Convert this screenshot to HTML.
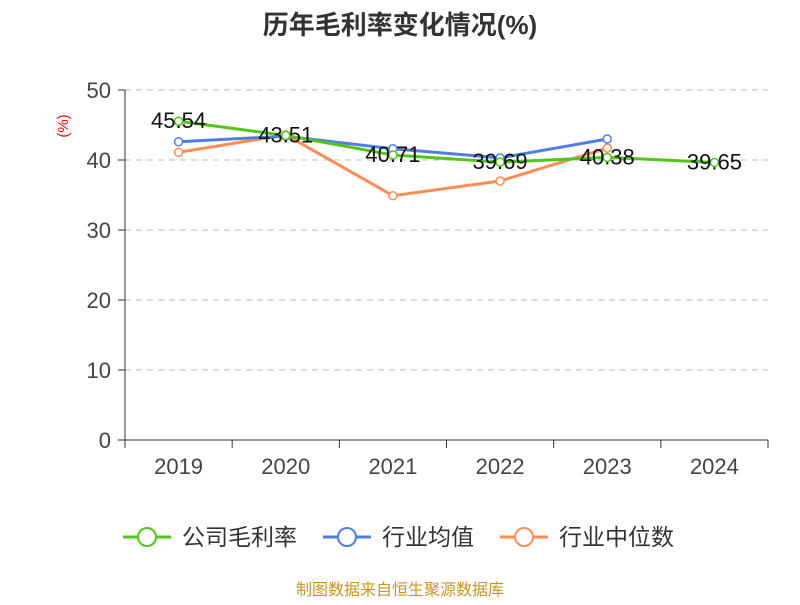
<!DOCTYPE html>
<html><head><meta charset="utf-8">
<style>
body{margin:0;background:#fff;}
svg text{font-family:"Liberation Sans","Noto Sans CJK SC",sans-serif;}
</style></head>
<body>
<svg id="chart" width="800" height="600" xmlns="http://www.w3.org/2000/svg">
<text x="400" y="34" text-anchor="middle" font-size="26" font-weight="bold" fill="#333">历年毛利率变化情况(%)</text>
<text x="68" y="126" text-anchor="middle" font-size="15" fill="#e00" transform="rotate(-90 68 126)">(%)</text>
<g id="grid"></g><g id="axes"></g><g id="series"></g><g id="labels"></g>
<g>
 <g><line x1="123" y1="537" x2="171" y2="537" stroke="#52c41a" stroke-width="3"/><circle cx="147" cy="537" r="9" fill="#fff" stroke="#52c41a" stroke-width="2"/><text x="182" y="545" font-size="23" fill="#333">公司毛利率</text></g>
 <g><line x1="323" y1="537" x2="371" y2="537" stroke="#4e7fe0" stroke-width="3"/><circle cx="347" cy="537" r="9" fill="#fff" stroke="#4e7fe0" stroke-width="2"/><text x="382" y="545" font-size="23" fill="#333">行业均值</text></g>
 <g><line x1="500" y1="537" x2="548" y2="537" stroke="#ff8c55" stroke-width="3"/><circle cx="524" cy="537" r="9" fill="#fff" stroke="#ff8c55" stroke-width="2"/><text x="559" y="545" font-size="23" fill="#333">行业中位数</text></g>
</g>
<text x="400" y="595" text-anchor="middle" font-size="16" fill="#c8961e">制图数据来自恒生聚源数据库</text>
</svg>
<script>
const categories=["2019","2020","2021","2022","2023","2024"];
const companyMargin=[45.54,43.51,40.71,39.69,40.38,39.65];
const industryAvg=[42.6,43.4,41.6,40.3,43.0,null];
const industryMedian=[41.1,43.6,34.9,37.0,41.7,null];
const yTicks=[0,10,20,30,40,50];
const NS="http://www.w3.org/2000/svg";
const x0=125,x1=768,yBase=440,yTop=90,yMax=50;
const band=(x1-x0)/categories.length;
const xs=i=>x0+band*(i+0.5);
const ys=v=>yBase-(v/yMax)*(yBase-yTop);
function mk(tag,attrs,parent,txt){const e=document.createElementNS(NS,tag);for(const k in attrs)e.setAttribute(k,attrs[k]);if(txt!=null)e.textContent=txt;document.getElementById(parent).appendChild(e);return e;}
yTicks.forEach(t=>{
 if(t>0){const g=mk('line',{x1:x0,x2:x1,y1:ys(t),y2:ys(t),stroke:'#bbb','stroke-dasharray':'6,5'},'grid');
 
 }
 const tk=mk('line',{x1:x0-7,x2:x0,y1:ys(t),y2:ys(t),stroke:'#333'},'axes');
 
 
 const l=mk('text',{x:x0-14,y:ys(t)+8,'text-anchor':'end','font-size':'22',fill:'#444'},'axes',t);
 
 
});
const ya=mk('line',{x1:x0,x2:x0,y1:yTop,y2:yBase,stroke:'#333'},'axes');


const xa=mk('line',{x1:x0,x2:x1,y1:yBase,y2:yBase,stroke:'#333'},'axes');


for(let i=0;i<=categories.length;i++){const t=mk('line',{x1:x0+band*i,x2:x0+band*i,y1:yBase,y2:yBase+8,stroke:'#333'},'axes');
 
 }
categories.forEach((c,i)=>{const l=mk('text',{x:xs(i),y:474,'text-anchor':'middle','font-size':'22',fill:'#444'},'axes',c);
 
 });
function series(vals,color,name){
 const pts=[];vals.forEach((v,i)=>{if(v!=null)pts.push([xs(i),ys(v)]);});
 const p=mk('polyline',{points:pts.map(p=>p.join(',')).join(' '),fill:'none',stroke:color,'stroke-width':3},'series');
 
 
 pts.forEach(q=>{const c=mk('circle',{cx:q[0],cy:q[1],r:4,fill:'#fff',stroke:color,'stroke-width':1.5},'series');
  
  });
}
series(industryMedian,'#ff8c55','industry-median');
series(industryAvg,'#4e7fe0','industry-average');
series(companyMargin,'#52c41a','gross-margin');
companyMargin.forEach((v,i)=>{const t=mk('text',{x:xs(i),y:ys(v)+7,'text-anchor':'middle','font-size':'22',fill:'#111'},'labels',v.toFixed(2));
 
 });
</script>
</body></html>
